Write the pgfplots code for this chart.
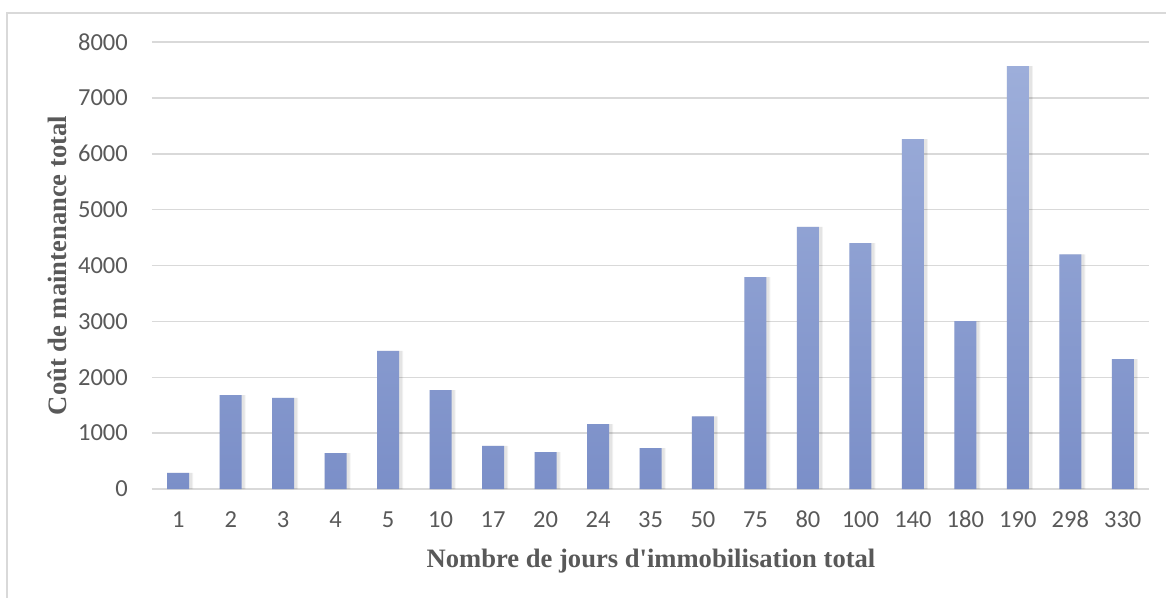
\documentclass[border=0pt]{standalone}
\usepackage{pgfplots}
\pgfplotsset{compat=1.18}
\usepackage{fontspec}
\setmainfont{Liberation Serif}
\newfontfamily\calibri{Carlito}
\definecolor{txt}{HTML}{595959}
\definecolor{gridc}{HTML}{D9D9D9}
\definecolor{bartop}{HTML}{9DAEDA}
\definecolor{barbot}{HTML}{7B8FC8}
\begin{document}
\begin{tikzpicture}[x=1pt,y=1pt]
\useasboundingbox (-152,-108) rectangle (1014,489);
\draw[gridc, line width=1.5pt] (-145,-110) -- (-145,476) -- (1016,476);
\begin{axis}[
  at={(0,0)}, anchor=south west,
  scale only axis, width=997pt, height=447pt,
  xmin=-0.5, xmax=18.5, ymin=0, ymax=8000,
  axis line style={draw=none},
  ytick={0,1000,...,8000},
  xtick={0,...,18},
  xticklabels={1,2,3,4,5,10,17,20,24,35,50,75,80,100,140,180,190,298,330},
  major tick length=0pt,
  ymajorgrids, grid style={gridc, line width=1.5pt},
  tick label style={font=\calibri\fontsize{24.5}{28}\selectfont, text=txt},
  /pgf/number format/assume math mode=true,
  yticklabel style={anchor=east, inner sep=0pt, xshift=-24pt},
  xticklabel style={anchor=base, inner sep=0pt, yshift=-38pt},
  scaled y ticks=false,
  yticklabel={\pgfmathprintnumber[fixed,1000 sep={}]{\tick}},
  xlabel={\textbf{Nombre de jours d\textquotesingle immobilisation total}},
  ylabel={\textbf{Coût de maintenance total}},
  label style={font=\fontsize{26.6}{30}\selectfont, text=txt},
  xlabel style={at={(axis description cs:0.5005,-0.1745)}, anchor=base},
  ylabel style={at={(axis description cs:-0.0953,0.5)}, anchor=center},
  clip=false,
]
\addplot[ybar, bar width=22pt, bar shift=3pt, fill=black, draw=none, fill opacity=0.06] coordinates {
(0,290) (1,1680) (2,1630) (3,640) (4,2470) (5,1770) (6,770) (7,660) (8,1160) (9,730)
(10,1300) (11,3790) (12,4690) (13,4400) (14,6260) (15,3005) (16,7570) (17,4200) (18,2325)};
\addplot[ybar, bar width=26pt, bar shift=2pt, fill=black, draw=none, fill opacity=0.05] coordinates {
(0,290) (1,1680) (2,1630) (3,640) (4,2470) (5,1770) (6,770) (7,660) (8,1160) (9,730)
(10,1300) (11,3790) (12,4690) (13,4400) (14,6260) (15,3005) (16,7570) (17,4200) (18,2325)};
\addplot[ybar, bar width=22pt, bar shift=0pt, draw=none, top color=bartop, bottom color=barbot] coordinates {
(0,290) (1,1680) (2,1630) (3,640) (4,2470) (5,1770) (6,770) (7,660) (8,1160) (9,730)
(10,1300) (11,3790) (12,4690) (13,4400) (14,6260) (15,3005) (16,7570) (17,4200) (18,2325)};
\end{axis}
\end{tikzpicture}
\end{document}
